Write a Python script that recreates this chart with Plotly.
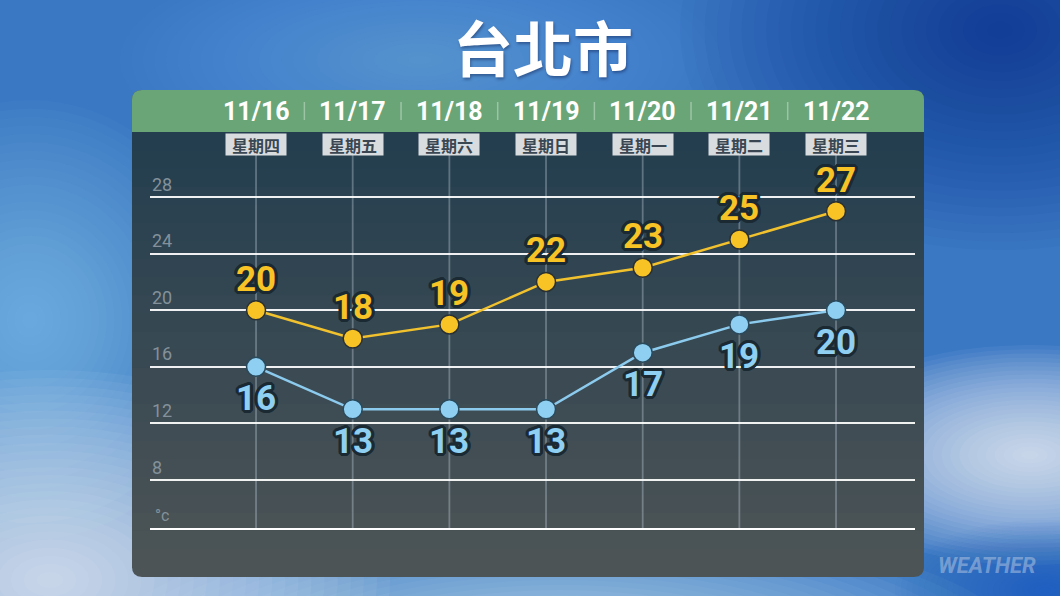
import plotly.graph_objects as go

# ---------------- data ----------------
dates = ["11/16", "11/17", "11/18", "11/19", "11/20", "11/21", "11/22"]
weekdays = ["星期四", "星期五", "星期六", "星期日", "星期一", "星期二", "星期三"]
highs = [20, 18, 19, 22, 23, 25, 27]
lows = [16, 13, 13, 13, 17, 19, 20]
ytick_vals = [28, 24, 20, 16, 12, 8]
ytick_text = ["28", "24", "20", "16", "12", "8"]
unit_label = "°c"
title_text = "台北市"
watermark = "WEATHER"

# ---------------- geometry (pixels) ----------------
FW, FH = 1060, 596
L, R, T, B = 150, 915, 170, 528
W, H = R - L, B - T
Y0, Y1 = 4.61, 29.91
X0, X1 = -1.097, 6.817


def px(x):
    return (x - L) / W


def py(y):
    return (B - y) / H


def rrect(x0, y0, x1, y1, rt, rb):
    def P(x, y):
        return f"{px(x):.5f},{py(y):.5f}"
    d = f"M {P(x0 + rt, y0)} L {P(x1 - rt, y0)} Q {P(x1, y0)} {P(x1, y0 + rt)} "
    d += f"L {P(x1, y1 - rb)} Q {P(x1, y1)} {P(x1 - rb, y1)} "
    d += f"L {P(x0 + rb, y1)} Q {P(x0, y1)} {P(x0, y1 - rb)} "
    d += f"L {P(x0, y0 + rt)} Q {P(x0, y0)} {P(x0 + rt, y0)} Z"
    return d


def lerp(c0, c1, t):
    return "#%02x%02x%02x" % tuple(int(round(a + (b - a) * t)) for a, b in zip(c0, c1))


shapes = []


# ---- soft sky background blobs ----
def blob(cx, cy, rx, ry, color, steps=26, op=0.022):
    for k in range(steps):
        f = 1 - k / steps
        shapes.append(dict(type="circle", xref="paper", yref="paper", layer="below",
                           x0=px(cx - rx * f), x1=px(cx + rx * f),
                           y0=py(cy + ry * f), y1=py(cy - ry * f),
                           fillcolor=color, opacity=op, line_width=0))


blob(1000, 30, 320, 220, "#06267a", op=0.03)
blob(420, 60, 300, 110, "#8fc8ee", op=0.018)
blob(30, 320, 200, 220, "#9ad6f2", op=0.03)
blob(50, 580, 340, 210, "#ffffff", op=0.05)
blob(1030, 455, 230, 110, "#ffffff", op=0.05)
blob(560, 650, 460, 130, "#eef3f8", op=0.04)
blob(1045, 590, 150, 70, "#2c66b8", op=0.03)

# ---- panel ----
PX0, PX1, PY0, PHY, PY1 = 132, 924, 90, 132, 577
body_top = (36, 62, 79)
body_bot = (76, 84, 86)
shapes.append(dict(type="path", xref="paper", yref="paper", layer="below",
                   path=rrect(PX0, PY0, PX1, PY1, 10, 10),
                   fillcolor=lerp(body_top, body_bot, 1.0), line_width=0))
nb = 24
band_top, band_bot = PHY, PY1 - 10
for i in range(nb):
    y0b = band_top + (band_bot - band_top) * i / nb
    y1b = band_top + (band_bot - band_top) * (i + 1) / nb + 0.8
    shapes.append(dict(type="rect", xref="paper", yref="paper", layer="below",
                       x0=px(PX0), x1=px(PX1), y0=py(y1b), y1=py(y0b),
                       fillcolor=lerp(body_top, body_bot, i / (nb - 1)), line_width=0))
# green header
shapes.append(dict(type="path", xref="paper", yref="paper", layer="below",
                   path=rrect(PX0, PY0, PX1, PHY, 10, 0),
                   fillcolor="#6aa577", line_width=0))

# separators between dates
for i in range(len(dates) - 1):
    shapes.append(dict(type="line", xref="x", yref="paper", layer="above",
                       x0=i + 0.5, x1=i + 0.5, y0=py(120), y1=py(102),
                       line=dict(color="rgba(255,255,255,0.35)", width=1.5)))

# vertical day lines
for i in range(len(dates)):
    shapes.append(dict(type="line", xref="x", yref="paper", layer="below",
                       x0=i, x1=i, y0=0, y1=py(154),
                       line=dict(color="rgba(200,215,225,0.35)", width=1.8)))

fig = go.Figure()

fig.add_trace(go.Scatter(
    x=list(range(len(dates))), y=highs, mode="lines+markers",
    line=dict(color="#f2c12e", width=2.5),
    marker=dict(size=19, color="#f7c325", line=dict(color="#2a3033", width=1.5)),
    hoverinfo="skip", showlegend=False))
fig.add_trace(go.Scatter(
    x=list(range(len(dates))), y=lows, mode="lines+markers",
    line=dict(color="#8ccbee", width=2.5),
    marker=dict(size=19, color="#8fcff2", line=dict(color="#2a4a5c", width=1.5)),
    hoverinfo="skip", showlegend=False))

annotations = []

OUT = "#1b2a32"
stroke = ", ".join(f"{dx}px {dy}px 0 {OUT}" for dx, dy in
                   [(2, 2), (-2, -2), (2, -2), (-2, 2), (0, 3), (3, 0), (0, -3), (-3, 0),
                    (1, 3), (-1, 3), (1, -3), (-1, -3), (3, 1), (3, -1), (-3, 1), (-3, -1)])

for i, v in enumerate(highs):
    annotations.append(dict(x=i, y=v, xref="x", yref="y", text=str(v), showarrow=False,
                            yshift=31, xanchor="center", yanchor="middle",
                            font=dict(family="Roboto", size=35, color="#f7c325",
                                      weight="bold", shadow=stroke)))
for i, v in enumerate(lows):
    annotations.append(dict(x=i, y=v, xref="x", yref="y", text=str(v), showarrow=False,
                            yshift=-32, xanchor="center", yanchor="middle",
                            font=dict(family="Roboto", size=35, color="#8fcff2",
                                      weight="bold", shadow=stroke)))

# header dates & weekdays
for i, (d, wd) in enumerate(zip(dates, weekdays)):
    annotations.append(dict(x=i, y=py(111), xref="x", yref="paper", text=d, showarrow=False,
                            xanchor="center", yanchor="middle",
                            font=dict(family="Roboto", size=25, color="#ffffff", weight="bold")))
    annotations.append(dict(x=i, y=py(144), xref="x", yref="paper", text=wd, showarrow=False,
                            xanchor="center", yanchor="middle", width=58, height=19,
                            bgcolor="#d8dcdf", borderpad=1,
                            font=dict(family="Noto Sans CJK TC", size=16, color="#3a4752",
                                      weight="bold")))

# y tick labels (above the grid lines)
for v, t in zip(ytick_vals, ytick_text):
    annotations.append(dict(x=0, y=v, xref="paper", yref="y", text=t, showarrow=False,
                            xanchor="left", yanchor="middle", yshift=13,
                            font=dict(family="Roboto", size=18, color="#84919a")))
annotations.append(dict(x=0.004, y=Y0, xref="paper", yref="y", text=unit_label, showarrow=False,
                        xanchor="left", yanchor="middle", yshift=13,
                        font=dict(family="Roboto", size=16, color="#84919a")))

# title
annotations.append(dict(x=px(543), y=py(45), xref="paper", yref="paper", text=title_text,
                        showarrow=False, xanchor="center", yanchor="middle",
                        font=dict(family="Noto Sans CJK TC", size=60, color="#ffffff",
                                  weight="bold", shadow="1px 2px 3px rgba(0,0,40,0.35)")))
# watermark
annotations.append(dict(x=px(987), y=py(565), xref="paper", yref="paper",
                        text=f"<i>{watermark}</i>", showarrow=False,
                        xanchor="center", yanchor="middle",
                        font=dict(family="Roboto", size=22, color="rgba(175,195,225,0.55)",
                                  weight="bold")))

fig.update_layout(
    width=FW, height=FH,
    margin=dict(l=L, r=FW - R, t=T, b=FH - B, pad=0),
    paper_bgcolor="#3a78c4",
    plot_bgcolor="rgba(0,0,0,0)",
    shapes=shapes,
    annotations=annotations,
    xaxis=dict(range=[X0, X1], showgrid=False, zeroline=False, showticklabels=False,
               showline=True, linecolor="#ffffff", linewidth=2, fixedrange=True),
    yaxis=dict(range=[Y0, Y1], tickvals=ytick_vals, showticklabels=False, zeroline=False,
               showgrid=True, gridcolor="rgba(255,255,255,0.92)", gridwidth=2,
               showline=False, fixedrange=True),
    hovermode=False,
)

fig.write_html("out.html", config={"displayModeBar": False},
               post_script="document.body.style.margin='0';document.body.style.overflow='hidden';")
